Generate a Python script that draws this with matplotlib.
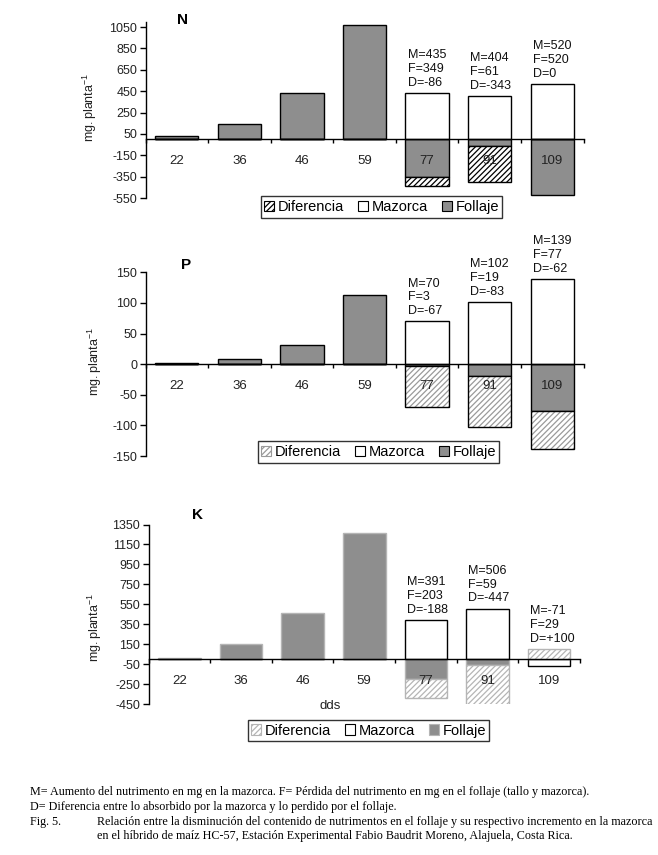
import numpy as np
import matplotlib
matplotlib.use('Agg')
import matplotlib.pyplot as plt
import matplotlib.transforms as mtransforms
from matplotlib.patches import Patch

plt.rcParams['font.family'] = ['Liberation Sans', 'DejaVu Sans']
plt.rcParams['hatch.linewidth'] = 0.9
plt.rcParams['axes.unicode_minus'] = False
plt.rcParams['mathtext.fontset'] = 'custom'
plt.rcParams['mathtext.rm'] = 'Liberation Sans'

W, H = 658, 855

dias = ['22', '36', '46', '59', '77', '91', '109']

# N ##########################################################
N_follaje = [30, 145, 435, 1065, -349, -61, -520]
N_mazorca = [0, 0, 0, 0, 435, 404, 520]
N_dif = [0, 0, 0, 0, -86, -343, 0]
N_M = [435, 404, 520]
N_F = [349, 61, 520]
N_D = [-86, -343, 0]
N_yticks = list(range(-550, 1051, 200))

# P ##########################################################
P_follaje = [2, 8, 31, 113, -3, -19, -77]
P_mazorca = [0, 0, 0, 0, 70, 102, 139]
P_dif = [0, 0, 0, 0, -67, -83, -62]
P_M = [70, 102, 139]
P_F = [3, 19, 77]
P_D = [-67, -83, -62]
P_yticks = list(range(-150, 151, 50))

# K ##########################################################
K_follaje = [10, 150, 465, 1265, -203, -59, 0]
K_mazorca = [0, 0, 0, 0, 391, 506, -71]
K_dif = [0, 0, 0, 0, -188, -447, 100]
K_M = [391, 506, -71]
K_F = [203, 59, 29]
K_D = [-188, -447, 100]
K_yticks = list(range(-450, 1351, 200))

GRAY = '#8e8e8e'
BW = 0.69


def px_axes(fig, left, top, right, bottom):
    return fig.add_axes([left / W, 1 - bottom / H, (right - left) / W, (bottom - top) / H])


def fmt_d(d):
    return f"{d:+d}" if d > 0 else str(d)


def colors_for(style):
    if style == 'K':
        return '#b5b5b5', '#b5b5b5', '#b5b5b5'
    elif style == 'P':
        return 'black', '#9a9a9a', 'black'
    return 'black', 'black', 'black'


def draw_panel(ax, follaje, mazorca, dif, M, F, D, yticks, ylim, style):
    x = np.arange(len(dias))
    f_edge, d_hatch, d_edge = colors_for(style)

    ax.bar(x, follaje, BW, color=GRAY, edgecolor=f_edge, lw=1.0, zorder=2)
    ax.bar(x, mazorca, BW, color='white', edgecolor='black', lw=1.0, zorder=2)
    dif_bottom = [f if (d < 0 and f < 0) else 0 for f, d in zip(follaje, dif)]
    ax.bar(x, dif, BW, bottom=dif_bottom, color='white', edgecolor=d_hatch,
           hatch='//////', lw=0, zorder=2)
    ax.bar(x, dif, BW, bottom=dif_bottom, color='none', edgecolor=d_edge,
           lw=1.0, zorder=3)

    ax.set_xlim(-0.5, len(dias) - 0.5)
    ax.set_ylim(*ylim)
    ax.set_yticks(yticks)
    ax.tick_params(axis='y', direction='out', length=4, width=1, labelsize=9,
                   labelcolor='#222222', pad=2)
    ax.set_xticks(np.arange(-0.5, len(dias), 1))
    ax.tick_params(axis='x', direction='out', length=3, width=1, labelbottom=False)
    for s in ['top', 'right']:
        ax.spines[s].set_visible(False)
    ax.spines['bottom'].set_position(('data', 0))
    ax.spines['bottom'].set_zorder(4)
    ax.spines['left'].set_linewidth(1)
    ax.spines['bottom'].set_linewidth(1)

    trans = mtransforms.offset_copy(ax.transData, fig=ax.figure, x=0, y=-22, units='dots')
    for i, d in enumerate(dias):
        ax.text(i, 0, d, transform=trans, ha='center', va='center', fontsize=9.5,
                color='#222222', zorder=5)

    for j, (m, f, d) in enumerate(zip(M, F, D)):
        i = len(dias) - len(M) + j
        top = max(m, d, 0)
        ax.annotate(f"M={m}\nF={f}\nD={fmt_d(d)}", xy=(i - BW / 2, top),
                    xytext=(1.5, 3), textcoords='offset points', ha='left', va='bottom',
                    fontsize=9, linespacing=1.2, color='#111111')


def add_legend(fig, cx, cy, style):
    f_edge, d_hatch, d_edge = colors_for(style)
    handles = [
        Patch(facecolor='white', edgecolor=d_hatch, hatch='//////', lw=0.8, label='Diferencia'),
        Patch(facecolor='white', edgecolor='black', lw=0.8, label='Mazorca'),
        Patch(facecolor=GRAY, edgecolor=f_edge, lw=0.8, label='Follaje'),
    ]
    leg = fig.legend(handles=handles, loc='center', bbox_to_anchor=(cx / W, 1 - cy / H),
                     ncol=3, fontsize=10.5, frameon=True, fancybox=False,
                     handlelength=0.7, handleheight=0.7, handletextpad=0.2,
                     columnspacing=1.0, borderpad=0.25, borderaxespad=0)
    leg.get_frame().set_edgecolor('black')
    leg.get_frame().set_linewidth(1)


fig = plt.figure(figsize=(W / 100, H / 100), dpi=100)

axN = px_axes(fig, 145.5, 21.7, 583.5, 198)
draw_panel(axN, N_follaje, N_mazorca, N_dif, N_M, N_F, N_D, N_yticks, (-550, 1100), 'N')
add_legend(fig, 381.5, 207, 'N')

axP = px_axes(fig, 145.5, 272.3, 583.5, 456)
draw_panel(axP, P_follaje, P_mazorca, P_dif, P_M, P_F, P_D, P_yticks, (-150, 150), 'P')
add_legend(fig, 378.5, 452, 'P')

axK = px_axes(fig, 148.5, 524.5, 580, 704)
draw_panel(axK, K_follaje, K_mazorca, K_dif, K_M, K_F, K_D, K_yticks, (-450, 1350), 'K')
add_legend(fig, 368.5, 730.5, 'K')

# titles and labels
for (tx, ty, t) in [(183, 20, 'N'), (186, 265, 'P'), (197, 515, 'K')]:
    fig.text(tx / W, 1 - ty / H, t, ha='center', va='center', fontsize=11, fontweight='bold')
for (lx, ly) in [(90, 107), (95, 361), (95, 627)]:
    fig.text(lx / W, 1 - ly / H, r'$\mathregular{mg.planta^{-1}}$', rotation=90,
             ha='center', va='center', fontsize=9, color='#222222')
fig.text(330 / W, 1 - 706 / H, 'dds', ha='center', va='center', fontsize=9.5, color='#222222')

# caption
cap = dict(fontsize=8.7, family=['Liberation Serif', 'DejaVu Serif'], va='center', ha='left')
fig.text(30 / W, 1 - 792 / H, 'M= Aumento del nutrimento en mg en la mazorca. F= Pérdida del '
         'nutrimento en mg en el follaje (tallo y mazorca).', **cap)
fig.text(30 / W, 1 - 807 / H, 'D= Diferencia entre lo absorbido por la mazorca y lo perdido '
         'por el follaje.', **cap)
fig.text(30 / W, 1 - 822 / H, 'Fig. 5.', **cap)
fig.text(97 / W, 1 - 822 / H, 'Relación entre la disminución del contenido de nutrimentos en '
         'el follaje y su respectivo incremento en la mazorca', **cap)
fig.text(97 / W, 1 - 836 / H, 'en el híbrido de maíz HC-57, Estación Experimental Fabio '
         'Baudrit Moreno, Alajuela, Costa Rica.', **cap)

fig.savefig('out.png', dpi=100)
